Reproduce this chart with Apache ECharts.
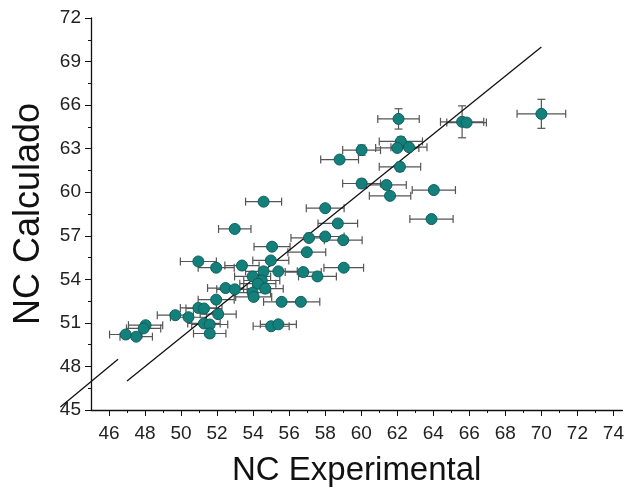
<!DOCTYPE html>
<html>
<head>
<meta charset="utf-8">
<script src="https://cdn.jsdelivr.net/npm/echarts@6/dist/echarts.min.js"></script>
<style>
  html, body { margin: 0; padding: 0; background: #fff; }
  #chart { width: 627px; height: 492px; }
</style>
</head>
<body>
<div id="chart"></div>
<script>
// NC experimental vs calculado
var ncExp = [70.0, 65.6, 65.85, 62.07, 62.2, 62.0, 62.65, 60.02, 58.8, 62.15,
             60.02, 61.4, 61.6, 64.03, 63.9, 54.58, 58.0, 58.7, 57.1, 58.0,
             59.0, 55.05, 56.98, 54.98, 54.58, 55.4, 56.78, 57.57, 59.03, 53.97,
             52.98, 50.96, 51.95, 53.38, 54.48, 54.26, 54.67, 52.47, 52.98, 53.97,
             54.03, 51.95, 55.58, 56.65, 50.96, 51.27, 49.68, 50.41, 52.06, 51.27,
             51.59, 51.59, 55.0, 55.4, 48.03, 47.92, 46.93, 47.51];
var ncCalc = [65.4, 64.85, 64.8, 65.05, 63.5, 63.05, 63.1, 62.9, 62.25, 61.75,
              60.6, 60.5, 59.75, 60.15, 58.15, 59.35, 58.9, 57.85, 56.85, 56.95,
              56.7, 56.25, 55.87, 55.3, 54.55, 54.55, 54.5, 54.2, 54.8, 54.2,
              57.47, 55.23, 54.8, 54.95, 53.92, 53.7, 53.36, 53.4, 53.31, 53.08,
              52.79, 52.6, 52.45, 52.45, 52.03, 51.99, 51.53, 51.39, 51.6, 50.96,
              50.89, 50.27, 50.77, 50.9, 50.84, 50.62, 50.2, 50.05];
var errExp = [1.35, 1.2, 1.1, 1.15, 1.2, 1.2, 1.0, 1.05, 1.05, 1.15,
              1.05, 1.1, 1.15, 1.2, 1.2, 1.0, 1.05, 1.1, 1.0, 1.05,
              1.05, 1.0, 1.05, 1.0, 1.0, 1.05, 1.0, 1.05, 1.1, 1.0,
              0.9, 1.0, 1.0, 0.95, 1.0, 1.0, 1.0, 1.0, 1.0, 1.0,
              1.0, 1.0, 1.0, 1.05, 1.0, 1.0, 1.0, 1.0, 1.0, 0.9,
              1.0, 0.9, 1.0, 1.0, 0.95, 0.95, 0.9, 0.9];
var errCalc = [1.0, 1.1, 0, 0.7, 0.3, 0, 0, 0.35, 0.2, 0.3,
               0.3, 0, 0, 0, 0, 0, 0, 0, 0, 0,
               0, 0, 0, 0, 0, 0, 0, 0, 0, 0,
               0, 0, 0, 0, 0, 0, 0, 0, 0, 0,
               0, 0, 0, 0, 0, 0, 0, 0, 0, 0,
               0, 0, 0, 0, 0, 0, 0, 0];

// lines
var idealLine = [[47, 47], [70, 70]];
var shortLine = [[43.3, 45.2], [46.5, 48.5]];

// ticks
var xLabels = [46, 48, 50, 52, 54, 56, 58, 60, 62, 64, 66, 68, 70, 72, 74];
var xMinor = [47, 49, 51, 53, 55, 57, 59, 61, 63, 65, 67, 69, 71, 73];

var font = "'Liberation Sans', Arial, sans-serif";

var points = ncExp.map(function (x, i) { return [x, ncCalc[i]]; });
var errData = ncExp.map(function (x, i) { return [x, ncCalc[i], errExp[i], errCalc[i]]; });

function renderErr(params, api) {
    var x = api.value(0), y = api.value(1), ex = api.value(2), ey = api.value(3);
    var left = api.coord([x - ex, y]);
    var right = api.coord([x + ex, y]);
    var cap = 4;
    var style = { stroke: '#555', lineWidth: 1.2 };
    var kids = [
        { type: 'line', shape: { x1: left[0], y1: left[1], x2: right[0], y2: right[1] }, style: style },
        { type: 'line', shape: { x1: left[0], y1: left[1] - cap, x2: left[0], y2: left[1] + cap }, style: style },
        { type: 'line', shape: { x1: right[0], y1: right[1] - cap, x2: right[0], y2: right[1] + cap }, style: style }
    ];
    if (ey > 0) {
        var top = api.coord([x, y + ey]);
        var bot = api.coord([x, y - ey]);
        kids.push(
            { type: 'line', shape: { x1: top[0], y1: top[1], x2: bot[0], y2: bot[1] }, style: style },
            { type: 'line', shape: { x1: top[0] - cap, y1: top[1], x2: top[0] + cap, y2: top[1] }, style: style },
            { type: 'line', shape: { x1: bot[0] - cap, y1: bot[1], x2: bot[0] + cap, y2: bot[1] }, style: style }
        );
    }
    return { type: 'group', children: kids };
}

// short segment sticks out past the y axis, so draw it unclipped
function renderSeg(params, api) {
    if (params.dataIndex > 0) return;
    var a = api.coord(shortLine[0]);
    var b = api.coord(shortLine[1]);
    return {
        type: 'line',
        shape: { x1: a[0], y1: a[1], x2: b[0], y2: b[1] },
        style: { stroke: '#111', lineWidth: 1.3 }
    };
}

var myChart = echarts.init(document.getElementById('chart'));
myChart.setOption({
    animation: false,
    grid: { left: 91, right: 0, top: 18, bottom: 80 },
    xAxis: [
        {
            type: 'value',
            min: 45,
            max: 74.5,
            name: 'NC Experimental',
            nameLocation: 'middle',
            nameGap: 44,
            nameTextStyle: { fontFamily: font, fontSize: 33, color: '#111' },
            axisLine: { lineStyle: { color: '#111', width: 1.3 } },
            axisTick: { customValues: xLabels, length: 6, lineStyle: { color: '#111' } },
            axisLabel: { customValues: xLabels, fontFamily: font, fontSize: 19, color: '#222', margin: 14 },
            splitLine: { show: false }
        },
        {
            type: 'value',
            min: 45,
            max: 74.5,
            position: 'bottom',
            axisLine: { show: false },
            axisTick: { customValues: xMinor, length: 3, lineStyle: { color: '#111' } },
            axisLabel: { show: false },
            splitLine: { show: false }
        }
    ],
    yAxis: {
        type: 'value',
        min: 45,
        max: 72,
        interval: 3,
        name: 'NC Calculado',
        nameLocation: 'middle',
        nameGap: 44,
        nameTextStyle: { fontFamily: font, fontSize: 36, color: '#111' },
        axisLine: { show: true, lineStyle: { color: '#111', width: 1.3 } },
        axisTick: { show: true, length: 6, lineStyle: { color: '#111' } },
        minorTick: { show: true, splitNumber: 2, length: 3, lineStyle: { color: '#111' } },
        axisLabel: { fontFamily: font, fontSize: 19, color: '#222', margin: 10 },
        splitLine: { show: false }
    },
    series: [
        {
            type: 'line',
            data: idealLine,
            symbol: 'none',
            lineStyle: { color: '#111', width: 1.3 },
            z: 3
        },
        {
            type: 'custom',
            data: shortLine,
            renderItem: renderSeg,
            clip: false,
            z: 3
        },
        {
            type: 'custom',
            data: errData,
            renderItem: renderErr,
            encode: { x: 0, y: 1 },
            z: 2
        },
        {
            type: 'scatter',
            data: points,
            symbolSize: 11,
            itemStyle: { color: '#14807c', borderColor: '#0d5f5b', borderWidth: 1, opacity: 1 },
            z: 4
        }
    ]
});
</script>
</body>
</html>
